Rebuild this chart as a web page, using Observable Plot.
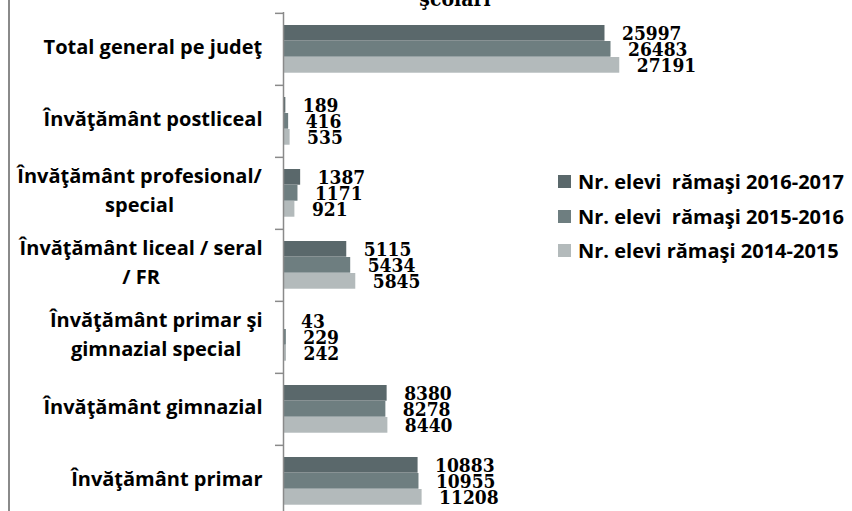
<!DOCTYPE html>
<html><head><meta charset="utf-8">
<script src="https://cdn.jsdelivr.net/npm/d3@7"></script>
<script src="https://cdn.jsdelivr.net/npm/@observablehq/plot@0.6"></script>
<style>
html,body{margin:0;padding:0;background:#fff;overflow:hidden}
#wrap{position:relative;width:852px;height:511px;overflow:hidden;background:#fff}
#border{position:absolute;left:8px;top:0;width:1.5px;height:511px;background:#8a8a8a}
#title{position:absolute;left:355px;width:200px;text-align:center;top:-12px;font-family:"DejaVu Serif Condensed","DejaVu Serif",serif;font-weight:bold;font-size:21px;line-height:21px;color:#000}
#chart{position:absolute;left:0;top:0}
#legend{position:absolute;left:558px;top:0;font-family:"Open Sans",sans-serif;font-weight:bold;font-size:20px;color:#000}
.row{position:absolute;left:0;height:20px;display:flex;align-items:center;white-space:pre}
.sw{width:13px;height:13px;margin-right:7px;flex:none}
</style></head><body>
<div id="wrap">
  <div id="title">şcolari</div>
  <div id="chart"></div>
  <div id="legend"></div>
  <div id="border"></div>
</div>
<script>
const categories = [
  "Total general pe judeţ",
  "Învăţământ postliceal",
  "Învăţământ profesional/\nspecial",
  "Învăţământ liceal / seral\n/ FR",
  "Învăţământ primar şi\ngimnazial special",
  "Învăţământ gimnazial",
  "Învăţământ primar"
];
const series = ["Nr. elevi  rămaşi 2016-2017", "Nr. elevi  rămaşi 2015-2016", "Nr. elevi rămaşi 2014-2015"];
const v2016 = [25997, 189, 1387, 5115, 43, 8380, 10883];
const v2015 = [26483, 416, 1171, 5434, 229, 8278, 10955];
const v2014 = [27191, 535, 921, 5845, 242, 8440, 11208];
const colors = ["#5a686b", "#6e7e80", "#b3babb"];

const seriesValues = [v2016, v2015, v2014];
const rows = categories.flatMap((c, i) => seriesValues.map((arr, s) => ({category: c, series: series[s], s, value: arr[i]})));

const H = 530, MT = 12, MB = 12;
const step = (H - MT - MB) / categories.length;
const barH = 16, pad = 12;

const marks = [];
seriesValues.forEach((_, s) => {
  const data = rows.filter(d => d.s === s);
  marks.push(Plot.barX(data, {
    x: "value", y: "category", fill: "series",
    insetTop: pad + s * barH, insetBottom: step - pad - (s + 1) * barH
  }));
});
marks.push(Plot.ruleX([0], {stroke: "#8a8a8a", strokeWidth: 1.5}));
// category boundary ticks, left of the axis line
marks.push(Plot.ruleY(categories, {
  y: d => d, x1: 0, x2: 0, insetLeft: -8, dy: -step / 2,
  stroke: "#8a8a8a", strokeWidth: 1.5
}));
marks.push(Plot.text(categories, {
  y: d => d, text: d => d, frameAnchor: "left", textAnchor: "middle", dy: -5,
  fontFamily: "'Open Sans', sans-serif", fontWeight: "bold", fontSize: 20, fill: "#000", lineHeight: 1.43
}));
seriesValues.forEach((_, s) => {
  const data = rows.filter(d => d.s === s);
  marks.push(Plot.text(data, {
    x: "value", y: "category", text: d => String(d.value), dx: 17, dy: (s - 1) * barH,
    textAnchor: "start", fontFamily: "'DejaVu Serif Condensed', 'DejaVu Serif', serif",
    fontWeight: "bold", fontSize: 19, fill: "#000"
  }));
});

const svg = Plot.plot({
  width: 852, height: H,
  marginLeft: 283, marginRight: 198, marginTop: MT, marginBottom: MB,
  x: {domain: [0, 30000], axis: null},
  y: {domain: categories, padding: 0, axis: null},
  color: {domain: series, range: colors},
  style: {background: "transparent", overflow: "visible"},
  marks
});
document.getElementById("chart").append(svg);

// right-align each category label block, keeping its lines centred
const labelGroup = svg.querySelectorAll('g[aria-label="text"]')[0];
labelGroup.querySelectorAll("text").forEach(t => {
  const b = t.getBBox();
  const shift = -21 - (b.x + b.width);
  t.setAttribute("transform", (t.getAttribute("transform") || "") + ` translate(${shift},0)`);
});

// legend
const legend = document.getElementById("legend");
const rowCenters = [181, 216, 250];
series.forEach((name, i) => {
  const r = document.createElement("div");
  r.className = "row";
  r.style.top = (rowCenters[i] - 10) + "px";
  const sw = document.createElement("span");
  sw.className = "sw";
  sw.style.background = colors[i];
  const tx = document.createElement("span");
  tx.textContent = name;
  r.append(sw, tx);
  legend.append(r);
});
</script>
</body></html>
